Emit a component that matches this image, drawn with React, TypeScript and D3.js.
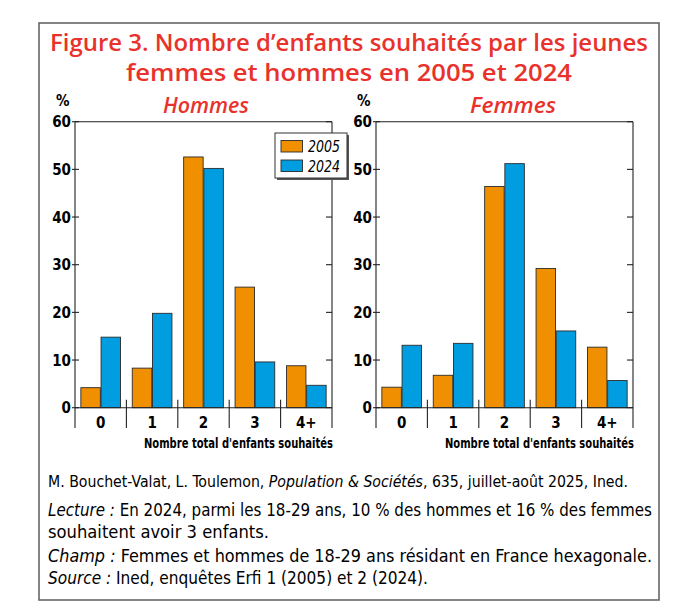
import React from 'react';
import * as d3 from 'd3';

// values (%)
const categories = ['0', '1', '2', '3', '4+'];
const years = ['2005', '2024'];
const hommes2005 = [4.2, 8.3, 52.6, 25.3, 8.8];
const hommes2024 = [14.8, 19.8, 50.2, 9.6, 4.7];
const femmes2005 = [4.3, 6.8, 46.4, 29.2, 12.7];
const femmes2024 = [13.1, 13.5, 51.2, 16.1, 5.7];
const yTicks = [0, 10, 20, 30, 40, 50, 60];

const W = 686;
const H = 616;
const COLORS: Record<string, string> = { '2005': '#f08f00', '2024': '#009ee0' };
const RED = '#e8322b';
const NARROW = '"DejaVu Sans Condensed", "DejaVu Sans", sans-serif';

const yScale = d3.scaleLinear().domain([0, 60]).range([407.7, 121.7]);

interface PanelProps {
  left: number;
  right: number;
  title: string;
  titleX: number;
  values: Record<string, number[]>;
  legend?: boolean;
}

const Panel: React.FC<PanelProps> = ({ left, right, title, titleX, values, legend }) => {
  const x = d3.scaleBand<string>().domain(categories).range([left, right]).padding(0);
  const x1 = d3.scaleBand<string>().domain(years).range([0, x.bandwidth()]).paddingInner(0.035).paddingOuter(0.29);
  const y0 = yScale(0);
  const yTop = yScale(60);
  const bottom = 428;
  const boundaries = categories.map(c => x(c) as number).concat([right]);

  return (
    <g>
      <text x={left - 19} y={106} fontFamily={NARROW} fontSize={15} fontWeight="bold">%</text>
      <text x={titleX} y={113} textAnchor="middle" fill={RED} fontFamily='"Open Sans", sans-serif'
        fontStyle="italic" fontWeight={600} fontSize={21} textLength={86}
        lengthAdjust="spacingAndGlyphs">{title}</text>

      {/* bars */}
      {categories.map((c, i) => (
        <g key={c}>
          {years.map(yr => {
            const v = values[yr][i];
            return (
              <rect key={yr}
                x={(x(c) as number) + (x1(yr) as number)}
                y={yScale(v)}
                width={x1.bandwidth()}
                height={y0 - yScale(v)}
                fill={COLORS[yr]}
                stroke="#2b2b2b"
                strokeWidth={0.9} />
            );
          })}
        </g>
      ))}

      {/* frame of the plot */}
      <line x1={left} x2={right} y1={yTop} y2={yTop} stroke="#222" strokeWidth={1.1} />
      <line x1={left} x2={right} y1={y0} y2={y0} stroke="#222" strokeWidth={1.1} />
      {boundaries.map((b, i) => (
        <line key={i} x1={b} x2={b}
          y1={i === 0 || i === boundaries.length - 1 ? yTop : y0 - 8}
          y2={bottom} stroke="#222" strokeWidth={1.1} />
      ))}

      {/* y ticks */}
      {yTicks.map(t => (
        <g key={t}>
          <line x1={left - 3} x2={left + 4} y1={yScale(t)} y2={yScale(t)} stroke="#222" strokeWidth={1.1} />
          <line x1={right - 6} x2={right} y1={yScale(t)} y2={yScale(t)} stroke="#222" strokeWidth={1.1} />
          <text x={left - 4} y={yScale(t) + 5.5} textAnchor="end" fontFamily={NARROW}
            fontWeight="bold" fontSize={15}>{t}</text>
        </g>
      ))}

      {/* category labels */}
      {categories.map(c => (
        <text key={c} x={(x(c) as number) + x.bandwidth() / 2} y={428} textAnchor="middle"
          fontFamily={NARROW} fontWeight="bold" fontSize={15}>{c}</text>
      ))}
      <text x={right + 1} y={448} textAnchor="end" fontFamily={NARROW} fontWeight="bold"
        fontSize={14} textLength={189} lengthAdjust="spacingAndGlyphs">Nombre total d'enfants souhaités</text>

      {legend && (
        <g>
          <rect x={277} y={135} width={72} height={45} fill="#555" />
          <rect x={275} y={133} width={72} height={45} fill="#fff" stroke="#333" strokeWidth={1} />
          {years.map((yr, i) => (
            <g key={yr}>
              <rect x={281} y={140.5 + i * 19.5} width={21.5} height={11.5} fill={COLORS[yr]}
                stroke="#2b2b2b" strokeWidth={0.9} />
              <text x={308} y={152 + i * 20} fontFamily={NARROW} fontStyle="italic" fontSize={15}
                textLength={32} lengthAdjust="spacingAndGlyphs">{yr}</text>
            </g>
          ))}
        </g>
      )}
    </g>
  );
};

const App: React.FC = () => {
  return (
    <svg width={W} height={H} viewBox={`0 0 ${W} ${H}`}
      style={{ position: 'absolute', left: 0, top: 0, background: '#fff' }}>
      <rect x={39} y={23} width={620} height={577} fill="#fff" stroke="#666" strokeWidth={1.6} />

      <text x={349} y={51} textAnchor="middle" fill={RED} fontFamily='"Open Sans", sans-serif'
        fontWeight={600} fontSize={24} textLength={598} lengthAdjust="spacingAndGlyphs">
        Figure 3. Nombre d’enfants souhaités par les jeunes
      </text>
      <text x={349} y={81} textAnchor="middle" fill={RED} fontFamily='"Open Sans", sans-serif'
        fontWeight={600} fontSize={24} textLength={446} lengthAdjust="spacingAndGlyphs">
        femmes et hommes en 2005 et 2024
      </text>

      <Panel left={75} right={332} title="Hommes" titleX={206}
        values={{ '2005': hommes2005, '2024': hommes2024 }} legend />
      <Panel left={376} right={633} title="Femmes" titleX={513}
        values={{ '2005': femmes2005, '2024': femmes2024 }} />

      <g fontFamily={NARROW} fill="#000">
        <text x={48} y={487} fontSize={16} textLength={580} lengthAdjust="spacingAndGlyphs">
          M. Bouchet-Valat, L. Toulemon, <tspan fontStyle="italic">Population &amp; Sociétés</tspan>, 635, juillet-août 2025, Ined.
        </text>
        <text x={48} y={516} fontSize={17.5} textLength={604} lengthAdjust="spacingAndGlyphs">
          <tspan fontStyle="italic">Lecture :</tspan> En 2024, parmi les 18-29 ans, 10 % des hommes et 16 % des femmes
        </text>
        <text x={48} y={538} fontSize={17.5} textLength={221} lengthAdjust="spacingAndGlyphs">
          souhaitent avoir 3 enfants.
        </text>
        <text x={48} y={562} fontSize={17.5} textLength={604} lengthAdjust="spacingAndGlyphs">
          <tspan fontStyle="italic">Champ :</tspan> Femmes et hommes de 18-29 ans résidant en France hexagonale.
        </text>
        <text x={48} y={584} fontSize={17.5} textLength={380} lengthAdjust="spacingAndGlyphs">
          <tspan fontStyle="italic">Source :</tspan> Ined, enquêtes Erfi 1 (2005) et 2 (2024).
        </text>
      </g>
    </svg>
  );
};

export default App;
